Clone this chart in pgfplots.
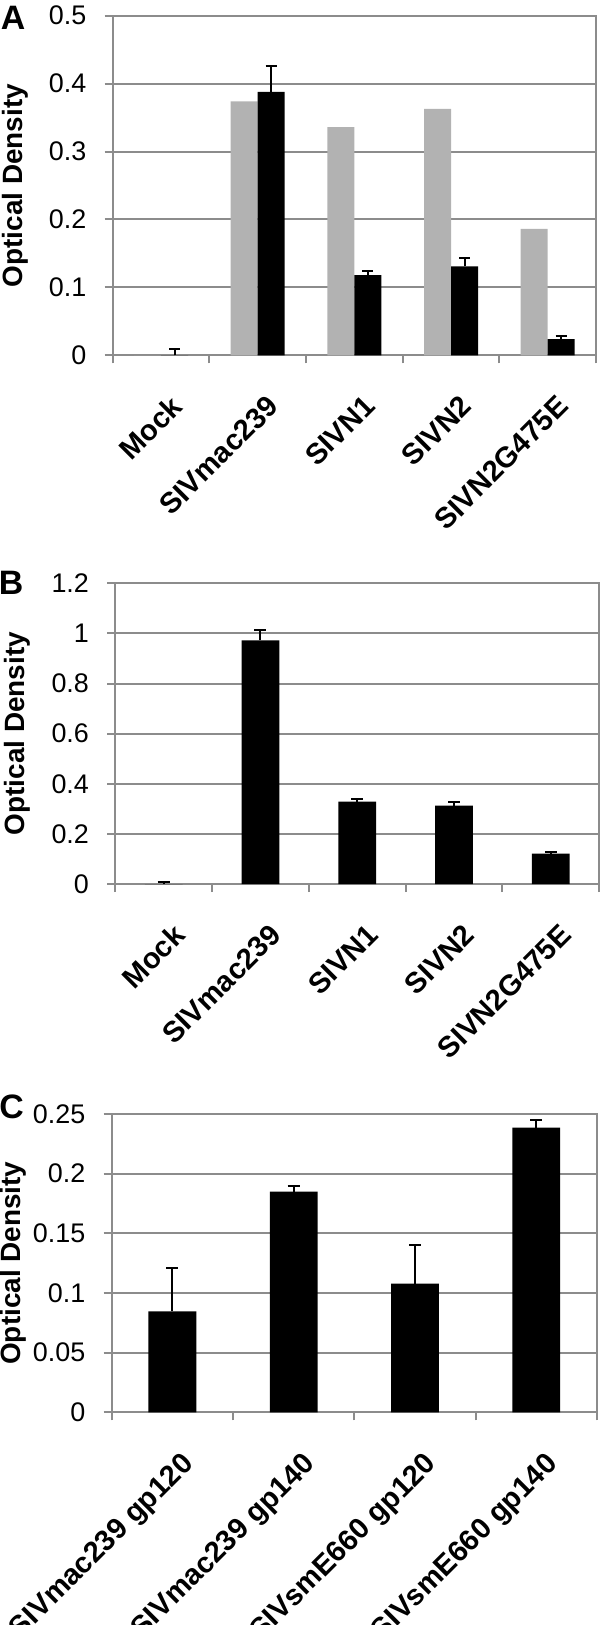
\documentclass[border=0pt]{standalone}
\usepackage{fontspec}
\setmainfont{Liberation Sans}
\usepackage{pgfplots}
\pgfplotsset{compat=1.18}

\definecolor{linegray}{RGB}{140,140,140}
\definecolor{bargray}{RGB}{178,178,178}

\pgfplotstableread{
x gray black err
1 0     0     0.010
2 0.374 0.388 0.038
3 0.336 0.118 0.006
4 0.363 0.131 0.013
5 0.186 0.024 0.004
}\panelA

\pgfplotstableread{
x od err
1 0     0.009
2 0.972 0.040
3 0.329 0.010
4 0.313 0.015
5 0.121 0.008
}\panelB

\pgfplotstableread{
x od err
1 0.0846 0.0360
2 0.1850 0.0045
3 0.1078 0.0327
4 0.2386 0.0068
}\panelC

\pgfplotsset{
  odpanel/.style={
    scale only axis,
    anchor=south west,
    xmin=0.5, ymin=0,
    axis line style={linegray, line width=1bp},
    ymajorgrids,
    grid style={linegray, line width=1bp},
    tick style={linegray, line width=1bp},
    tick align=outside,
    major tick length=4bp,
    xtick pos=bottom, ytick pos=left,
    xticklabel=\empty,
    extra x tick style={major tick length=0pt, grid=none},
    /pgf/number format/assume math mode=true,
    /pgf/number format/fixed,
    yticklabel style={font=\fontsize{13.5}{15}\selectfont, anchor=east, inner sep=0pt, xshift=-9bp},
    xticklabel style={font=\bfseries\fontsize{14.6}{17}\selectfont, xshift=4bp, yshift=-19bp, rotate=45, anchor=north east, inner sep=0pt},
    ylabel={Optical Density},
    ylabel style={font=\bfseries\fontsize{14}{16}\selectfont, at={(axis description cs:-0.202,0.5)}, anchor=center},
    clip=false,
  },
  blackbar/.style={fill=black, draw=none,
    error bars/.cd, y dir=plus, y explicit,
    error bar style={black, line width=1bp},
    error mark options={rotate=90, black, line width=1bp, mark size=#1}},
}

\begin{document}
\begin{tikzpicture}
\path[use as bounding box] (0,0) rectangle (300bp,-812.5bp);

% panel A
\begin{axis}[odpanel,
  at={(56.35bp,-177.65bp)}, width=241.65bp, height=169.8bp,
  xmax=5.5, ymax=0.5, ytick={0,0.1,...,0.5},
  xtick={0.5,1.5,...,5.5},
  extra x ticks={1,2,3,4,5},
  extra x tick labels={Mock,SIVmac239,SIVN1,SIVN2,SIVN2G475E},
  ybar=0pt, bar width=13.5bp]
  \addplot[fill=bargray, draw=none] table[x=x, y=gray] {\panelA};
  \addplot[blackbar=2.75bp] table[x=x, y=black, y error=err] {\panelA};
\end{axis}

% panel B
\begin{axis}[odpanel,
  at={(57.65bp,-442bp)}, width=241.95bp, height=150.35bp,
  xmax=5.5, ymax=1.2, ytick={0,0.2,...,1.2},
  xtick={0.5,1.5,...,5.5},
  extra x ticks={1,2,3,4,5},
  extra x tick labels={Mock,SIVmac239,SIVN1,SIVN2,SIVN2G475E},
  ybar, bar width=18.9bp]
  \addplot[blackbar=3bp] table[x=x, y=od, y error=err] {\panelB};
\end{axis}

% panel C
\begin{axis}[odpanel,
  at={(55.85bp,-706.15bp)}, width=242.65bp, height=149.15bp,
  xmax=4.5, ymax=0.25, ytick={0,0.05,...,0.25},
  xtick={0.5,1.5,...,4.5},
  extra x ticks={1,2,3,4},
  extra x tick labels={SIVmac239 gp120,SIVmac239 gp140,SIVsmE660 gp120,SIVsmE660 gp140},
  ybar, bar width=23.9bp]
  \addplot[blackbar=3bp] table[x=x, y=od, y error=err] {\panelC};
\end{axis}

\node[font=\bfseries\fontsize{17}{19}\selectfont] at (6.5bp,-8.85bp) {A};
\node[font=\bfseries\fontsize{17}{19}\selectfont] at (5.5bp,-291.25bp) {B};
\node[font=\bfseries\fontsize{17}{19}\selectfont] at (5.75bp,-553.5bp) {C};
\end{tikzpicture}
\end{document}
